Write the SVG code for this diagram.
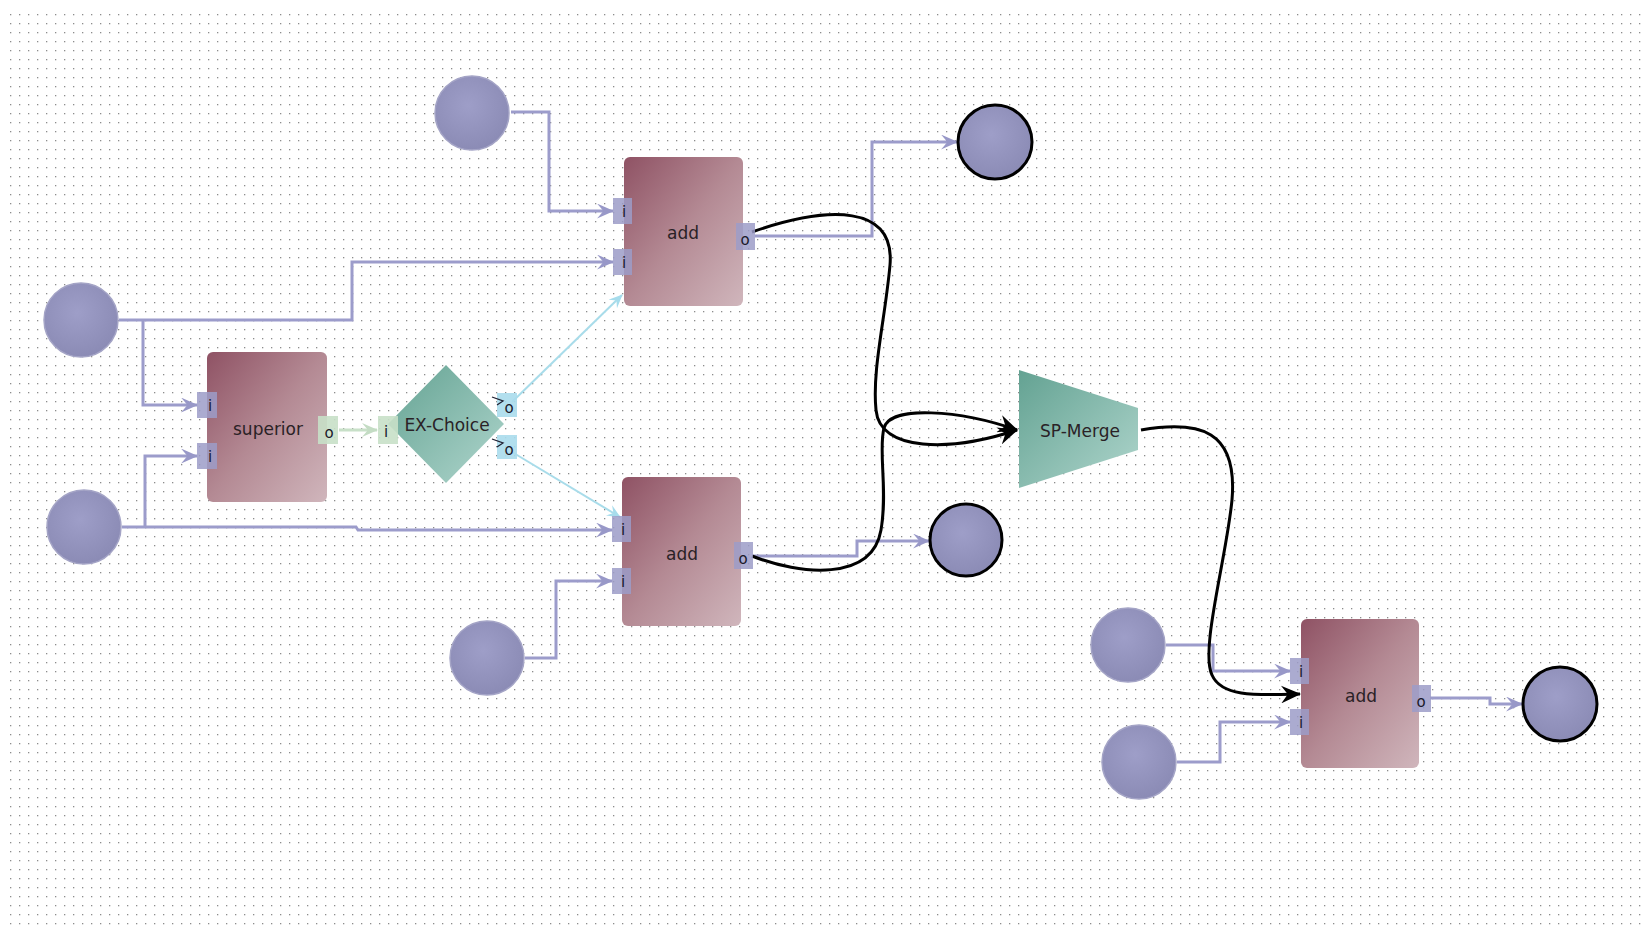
<svg xmlns="http://www.w3.org/2000/svg" width="1645" height="934" viewBox="0 0 1645 934">
<defs>
<pattern id="grid" x="10" y="14" width="9" height="9" patternUnits="userSpaceOnUse">
<rect x="0" y="0" width="1.3" height="1.3" fill="#8c8c8c"/>
</pattern>
<linearGradient id="gBox" x1="0" y1="0" x2="1" y2="1">
<stop offset="0" stop-color="#8f5264"/>
<stop offset="0.5" stop-color="#b48a94"/>
<stop offset="1" stop-color="#d0b6bc"/>
</linearGradient>
<linearGradient id="gTeal" x1="0" y1="0" x2="1" y2="1">
<stop offset="0" stop-color="#63a292"/>
<stop offset="1" stop-color="#b0d6cd"/>
</linearGradient>
<radialGradient id="gCirc" cx="0.45" cy="0.4" r="0.7">
<stop offset="0" stop-color="#9e9ec8"/>
<stop offset="1" stop-color="#8888b2"/>
</radialGradient>
<marker id="arB" viewBox="0 0 16 14" refX="15" refY="7" markerWidth="17" markerHeight="15" orient="auto" markerUnits="userSpaceOnUse">
<path d="M0,0 L16,7 L0,14 L6,7 Z" fill="#9898c8"/>
</marker>
<marker id="arG" viewBox="0 0 16 14" refX="15" refY="7" markerWidth="16" markerHeight="14" orient="auto" markerUnits="userSpaceOnUse">
<path d="M0,0 L16,7 L0,14 L6,7 Z" fill="#c4dcc4"/>
</marker>
<marker id="arC" viewBox="0 0 16 14" refX="15" refY="7" markerWidth="14" markerHeight="12" orient="auto" markerUnits="userSpaceOnUse">
<path d="M0,0 L16,7 L0,14 L6,7 Z" fill="#a6dcec"/>
</marker>
<marker id="arK" viewBox="0 0 18 16" refX="17" refY="8" markerWidth="20" markerHeight="18" orient="auto" markerUnits="userSpaceOnUse">
<path d="M0,0 L18,8 L0,16 L6,8 Z" fill="#000"/>
</marker>
</defs>
<style>
.lbl{font-family:"DejaVu Sans","Liberation Sans",sans-serif;font-size:17px;fill:#2a2226;text-anchor:middle;dominant-baseline:middle}
.plbl{font-family:"DejaVu Sans","Liberation Sans",sans-serif;font-size:15px;fill:#1a1a2a;text-anchor:middle;dominant-baseline:middle}
.box{fill:url(#gBox)}
.teal{fill:url(#gTeal)}
.port{fill:#9c9cc8;opacity:0.85}
.portG{fill:#c8e0c8;opacity:0.9}
.portC{fill:#aadcec;opacity:0.9}
.cin{fill:url(#gCirc);stroke:#a4a4c6;stroke-width:1.5}
.cout{fill:url(#gCirc);stroke:#000;stroke-width:3}
.wire{fill:none;stroke:#9c9ccb;stroke-width:3;marker-end:url(#arB)}
.wireG{fill:none;stroke:#c8e0c8;stroke-width:3;marker-end:url(#arG)}
.wireC{fill:none;stroke:#a8dcea;stroke-width:2;marker-end:url(#arC)}
.curve{fill:none;stroke:#000;stroke-width:3}
</style>
<rect x="0" y="0" width="1645" height="934" fill="#ffffff"/>
<rect x="8" y="12" width="1634" height="918" fill="url(#grid)"/>

<g id="connectors">
<polyline class="wire" points="511,112 549,112 549,211 613,211"/>
<polyline class="wire" points="119,320 352,320 352,262 613,262"/>
<polyline class="wire" points="143,320 143,405 197,405"/>
<polyline class="wire" points="122,527 356,527 358,530 612,530"/>
<polyline class="wire" points="145,527 145,456 197,456"/>
<polyline class="wire" points="525,658 556,658 556,581 612,581"/>
<polyline class="wire" points="755,236 872,236 872,142 957,142"/>
<polyline class="wire" points="753,556 857,556 857,541 929,541"/>
<polyline class="wire" points="1166,645 1213,645 1213,671 1290,671"/>
<polyline class="wire" points="1177,762 1220,762 1220,722 1290,722"/>
<polyline class="wire" points="1430,698 1490,698 1490,704 1522,704"/>
<polyline class="wireG" points="339,430 377,430"/>
<line class="wireC" x1="512" y1="402" x2="622" y2="295"/>
<line class="wireC" x1="512" y1="452" x2="620" y2="517"/>
<path class="curve" d="M752,232 C830,205 895,205 890,265 C885,320 872,370 876,410 C880,452 950,452 1017,430" marker-end="url(#arK)"/>
<path class="curve" d="M752,556 C800,575 872,582 881,530 C888,490 878,450 884,428 C890,405 960,410 1017,430" marker-end="url(#arK)"/>
<path class="curve" d="M1141,430 C1200,420 1238,430 1232,500 C1226,560 1200,650 1212,675 C1222,698 1260,695 1300,694" marker-end="url(#arK)"/>
</g>

<g id="in-top">
<circle class="cin" cx="472" cy="113" r="37"/>
</g>
<g id="in-left1">
<circle class="cin" cx="81" cy="320" r="37"/>
</g>
<g id="in-left2">
<circle class="cin" cx="84" cy="527" r="37"/>
</g>
<g id="in-bottom">
<circle class="cin" cx="487" cy="658" r="37"/>
</g>
<g id="in-r1">
<circle class="cin" cx="1128" cy="645" r="37"/>
</g>
<g id="in-r2">
<circle class="cin" cx="1139" cy="762" r="37"/>
</g>
<g id="out-top">
<circle class="cout" cx="995" cy="142" r="37"/>
</g>
<g id="out-mid">
<circle class="cout" cx="966" cy="540" r="36"/>
</g>
<g id="out-right">
<circle class="cout" cx="1560" cy="704" r="37"/>
</g>

<g id="superior">
<rect class="box" x="207" y="352" width="120" height="150" rx="6"/>
<text class="lbl" x="268" y="430">superior</text>
<rect class="port" x="197" y="392" width="20" height="26"/>
<text class="plbl" x="210" y="406">i</text>
<rect class="port" x="197" y="443" width="20" height="26"/>
<text class="plbl" x="210" y="457">i</text>
<rect class="portG" x="318" y="416" width="20" height="28"/>
<text class="plbl" x="329" y="433">o</text>
</g>

<g id="ex-choice">
<polygon class="teal" points="446,365 504,424 446,483 388,424"/>
<rect class="portG" x="378" y="416" width="20" height="28"/>
<text class="plbl" x="386" y="432">i</text>
<rect class="portC" x="497" y="393" width="20" height="24"/>
<path d="M492,397 L503,401 L497,405" fill="none" stroke="#223" stroke-width="1.3"/>
<text class="plbl" x="509" y="408">o</text>
<rect class="portC" x="497" y="435" width="20" height="24"/>
<path d="M492,439 L503,443 L497,447" fill="none" stroke="#223" stroke-width="1.3"/>
<text class="plbl" x="509" y="450">o</text>
<text class="lbl" x="447" y="426">EX-Choice</text>
</g>

<g id="add1">
<rect class="box" x="624" y="157" width="119" height="149" rx="6"/>
<text class="lbl" x="683" y="234">add</text>
<rect class="port" x="613" y="198" width="19" height="26"/>
<text class="plbl" x="624" y="212">i</text>
<rect class="port" x="613" y="249" width="19" height="26"/>
<text class="plbl" x="624" y="263">i</text>
<rect class="port" x="736" y="223" width="19" height="27"/>
<text class="plbl" x="745" y="240">o</text>
</g>

<g id="add2">
<rect class="box" x="622" y="477" width="119" height="149" rx="6"/>
<text class="lbl" x="682" y="555">add</text>
<rect class="port" x="612" y="516" width="19" height="26"/>
<text class="plbl" x="623" y="530">i</text>
<rect class="port" x="612" y="568" width="19" height="26"/>
<text class="plbl" x="623" y="582">i</text>
<rect class="port" x="734" y="542" width="19" height="27"/>
<text class="plbl" x="743" y="559">o</text>
</g>

<g id="sp-merge">
<polygon class="teal" points="1019,370 1138,408 1138,450 1019,488"/>
<text class="lbl" x="1080" y="432">SP-Merge</text>
</g>

<g id="add3">
<rect class="box" x="1301" y="619" width="118" height="149" rx="6"/>
<text class="lbl" x="1361" y="697">add</text>
<rect class="port" x="1290" y="658" width="19" height="26"/>
<text class="plbl" x="1301" y="672">i</text>
<rect class="port" x="1290" y="709" width="19" height="26"/>
<text class="plbl" x="1301" y="723">i</text>
<rect class="port" x="1412" y="685" width="19" height="27"/>
<text class="plbl" x="1421" y="702">o</text>
</g>
</svg>
